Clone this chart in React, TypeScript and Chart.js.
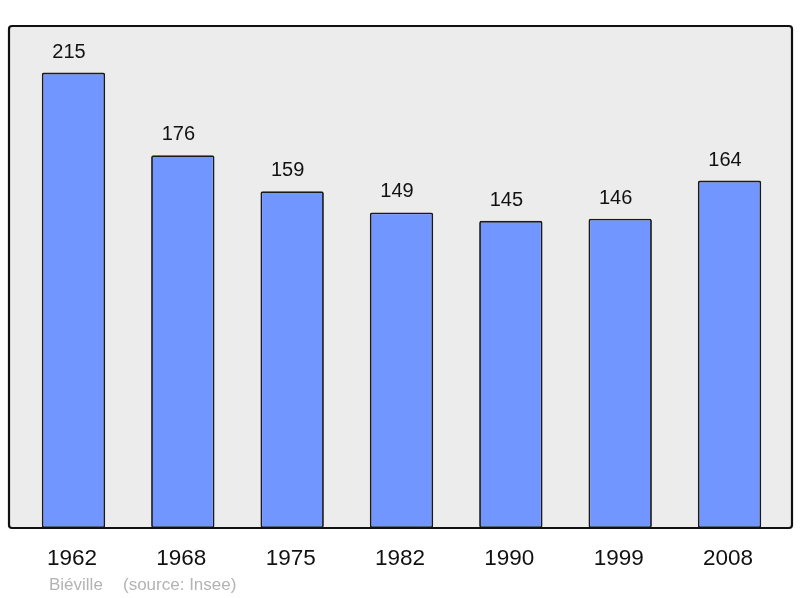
import React, { useEffect, useRef } from "react";
import { Chart, registerables } from "chart.js";

Chart.register(...registerables);

const years = ["1962", "1968", "1975", "1982", "1990", "1999", "2008"];
const population = [215, 176, 159, 149, 145, 146, 164];
const footerPlace = "Biéville";
const footerSource = "(source: Insee)";

const FONT = '"Liberation Sans", Arial, sans-serif';

function framePath(ctx: any, x0: number, y0: number, x1: number, y1: number, r: number) {
  ctx.beginPath();
  ctx.moveTo(x0 + r, y0);
  ctx.lineTo(x1 - r, y0);
  ctx.quadraticCurveTo(x1, y0, x1, y0 + r);
  ctx.lineTo(x1, y1 - r);
  ctx.quadraticCurveTo(x1, y1, x1 - r, y1);
  ctx.lineTo(x0 + r, y1);
  ctx.quadraticCurveTo(x0, y1, x0, y1 - r);
  ctx.lineTo(x0, y0 + r);
  ctx.quadraticCurveTo(x0, y0, x0 + r, y0);
  ctx.closePath();
}

const framePlugin = {
  id: "frame",
  beforeDatasetsDraw(chart: any) {
    const { ctx, chartArea } = chart;
    ctx.save();
    framePath(ctx, chartArea.left - 9.8, chartArea.top, chartArea.right + 7.8, chartArea.bottom, 3);
    ctx.fillStyle = "#ececec";
    ctx.fill();
    ctx.restore();
  },
  afterDatasetsDraw(chart: any) {
    const { ctx, chartArea } = chart;
    ctx.save();
    framePath(ctx, chartArea.left - 9.8, chartArea.top, chartArea.right + 7.8, chartArea.bottom, 3);
    ctx.lineWidth = 2.2;
    ctx.strokeStyle = "#111";
    ctx.stroke();

    // value labels
    const meta = chart.getDatasetMeta(0);
    ctx.fillStyle = "#111";
    ctx.font = `20px ${FONT}`;
    ctx.textAlign = "center";
    ctx.textBaseline = "middle";
    meta.data.forEach((bar: any, i: number) => {
      ctx.fillText(String(population[i]), bar.x - 4.5, bar.y - 20.5);
    });

    // category labels
    const xScale = chart.scales.x;
    ctx.font = `22.5px ${FONT}`;
    years.forEach((y, i) => {
      ctx.fillText(y, xScale.getPixelForValue(i) - 1.5, chartArea.bottom + 30.5);
    });

    // footer
    ctx.fillStyle = "#b3b3b3";
    ctx.font = `17px ${FONT}`;
    ctx.textAlign = "left";
    ctx.fillText(footerPlace, 49, 585);
    ctx.fillText(footerSource, 123, 585);
    ctx.restore();
  },
};

export default function App() {
  const ref = useRef<HTMLCanvasElement | null>(null);
  useEffect(() => {
    if (!ref.current) return;
    const chart = new Chart(ref.current, {
      type: "bar",
      data: {
        labels: years,
        datasets: [
          {
            data: population,
            backgroundColor: "#7296ff",
            borderColor: "#1a1a1a",
            borderWidth: 1.8,
            borderRadius: 2,
            borderSkipped: false,
            barPercentage: 0.58,
            categoryPercentage: 1,
          },
        ],
      },
      options: {
        animation: false,
        responsive: false,
        devicePixelRatio: 1,
        layout: { padding: { left: 18.8, right: 15.8, top: 26, bottom: 70 } },
        plugins: { legend: { display: false }, tooltip: { enabled: false } },
        scales: {
          x: { display: false, offset: true },
          y: { display: false, min: 0, max: 237 },
        },
      },
      plugins: [framePlugin],
    });
    return () => chart.destroy();
  }, []);
  return (
    <div style={{ position: "fixed", left: 0, top: 0, width: 800, height: 598, background: "#fff" }}>
      <canvas ref={ref} width={800} height={598} />
    </div>
  );
}
